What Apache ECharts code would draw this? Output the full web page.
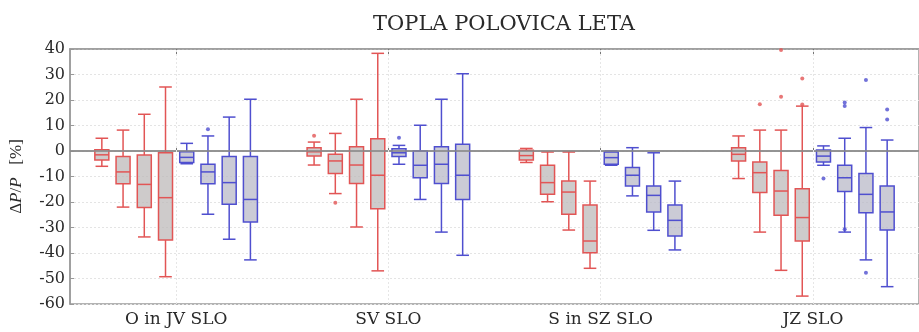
<!DOCTYPE html>
<html>
<head>
<meta charset="utf-8">
<script src="https://cdn.jsdelivr.net/npm/echarts@6/dist/echarts.min.js"></script>
<style>
html,body{margin:0;padding:0;background:#fff;}
#chart{width:919px;height:332px;}
</style>
</head>
<body>
<div id="chart"></div>
<script>
// Category (region) names
const groups = ['O in JV SLO', 'SV SLO', 'S in SZ SLO', 'JZ SLO'];
// Offsets of the four red and four blue boxes inside each region
const redOffsets = [-0.35, -0.25, -0.15, -0.05];
const blueOffsets = [0.05, 0.15, 0.25, 0.35];
// Box statistics [min, q1, median, q3, max] per region, 4 boxes each
const redStats = [
  [[-6, -3.5, -1.5, 0.5, 5], [-22, -12.8, -8.2, -2.2, 8.2], [-33.7, -22.2, -13.1, -1.6, 14.4], [-49.3, -34.9, -18.3, -0.7, 25.1]],
  [[-5.5, -2, -0.3, 1.3, 3.5], [-16.7, -8.8, -3.9, -1.3, 6.9], [-29.8, -12.7, -5.5, 1.7, 20.3], [-47, -22.6, -9.5, 4.8, 38.3]],
  [[-4.5, -3.5, -1.8, 0.3, 1], [-19.9, -17, -12.4, -5.6, -0.4], [-31, -24.8, -16.1, -11.8, -0.4], [-46, -39.9, -35.3, -21.2, -11.8]],
  [[-10.8, -3.9, -1.3, 1.3, 5.9], [-31.8, -16.3, -8.5, -4.3, 8.2], [-46.8, -25.2, -15.7, -7.6, 8.2], [-56.9, -35.3, -26.1, -14.8, 17.6]]
];
const blueStats = [
  [[-5, -4.5, -2.5, -0.3, 3], [-24.8, -12.8, -8.2, -5.2, 5.9], [-34.6, -20.9, -12.4, -2.2, 13.3], [-42.7, -27.8, -19, -2.2, 20.3]],
  [[-5.2, -2.2, -0.7, 0.9, 2.2], [-19, -10.5, -5.6, 0, 10.1], [-31.8, -12.7, -5.2, 1.7, 20.3], [-40.9, -19, -9.5, 2.6, 30.3]],
  [[-5.6, -5.2, -2.6, -0.4, 0], [-17.6, -13.7, -9.5, -6.5, 1.3], [-31.1, -23.9, -17.4, -13.7, -0.7], [-38.8, -33.3, -27.2, -21.2, -11.8]],
  [[-5.6, -4.3, -2, 0.4, 2], [-31.8, -15.9, -10.5, -5.6, 5], [-42.7, -24.2, -17, -8.8, 9.2], [-53.2, -31, -23.9, -13.7, 4.3]]
];
// Outliers: [region index, box index, value]
const redOutliers = [[1, 0, 6], [1, 1, -20.3], [3, 1, 18.3], [3, 2, 39.6], [3, 2, 21.3], [3, 3, 28.4], [3, 3, 18.2]];
const blueOutliers = [[0, 1, 8.5], [1, 0, 5.2], [3, 0, -10.8], [3, 1, 19], [3, 1, 17.6], [3, 1, -30.7], [3, 2, 27.8], [3, 2, -47.7], [3, 3, 16.3], [3, 3, 12.4]];
// Y axis ticks
const yMin = -60, yMax = 40, yStep = 10;

const serif = "'DejaVu Serif', 'Liberation Serif', serif";
const serif2 = "'Liberation Serif', 'DejaVu Serif', serif";
const RED = '#e25555';
const BLUE = '#4f4fcf';
const TXT = '#2a2a2a';

function buildBoxes(stats, offsets) {
  const out = [];
  stats.forEach((g, gi) => g.forEach((s, bi) => out.push([gi + 1 + offsets[bi]].concat(s))));
  return out;
}
function buildOutliers(list, offsets) {
  return list.map(o => [o[0] + 1 + offsets[o[1]], o[2]]);
}

function boxRenderer(color, fill) {
  return function (params, api) {
    const x = api.value(0);
    const pMin = api.coord([x, api.value(1)]);
    const pQ1 = api.coord([x, api.value(2)]);
    const pMed = api.coord([x, api.value(3)]);
    const pQ3 = api.coord([x, api.value(4)]);
    const pMax = api.coord([x, api.value(5)]);
    const w = api.size([0.066, 0])[0];
    const cx = pMin[0];
    const cap = w * 0.9;
    const ls = { stroke: color, lineWidth: 1.5 };
    return {
      type: 'group',
      children: [
        { type: 'line', shape: { x1: cx, y1: pMax[1], x2: cx, y2: pQ3[1] }, style: ls },
        { type: 'line', shape: { x1: cx, y1: pQ1[1], x2: cx, y2: pMin[1] }, style: ls },
        { type: 'line', shape: { x1: cx - cap / 2, y1: pMax[1], x2: cx + cap / 2, y2: pMax[1] }, style: ls },
        { type: 'line', shape: { x1: cx - cap / 2, y1: pMin[1], x2: cx + cap / 2, y2: pMin[1] }, style: ls },
        { type: 'rect', shape: { x: cx - w / 2, y: pQ3[1], width: w, height: pQ1[1] - pQ3[1] }, style: { fill: fill, stroke: color, lineWidth: 1.5 } },
        { type: 'line', shape: { x1: cx - w / 2, y1: pMed[1], x2: cx + w / 2, y2: pMed[1] }, style: ls }
      ]
    };
  };
}

const chart = echarts.init(document.getElementById('chart'), null, { renderer: 'canvas' });
const centers = groups.map((g, i) => i + 1);

chart.setOption({
  animation: false,
  backgroundColor: '#fff',
  title: {
    text: 'TOPLA POLOVICA LETA',
    left: 499, top: 9, textAlign: 'center',
    textStyle: { fontFamily: serif, fontSize: 21, fontWeight: 'normal', color: TXT }
  },
  grid: { left: 68, right: -8, top: 49, bottom: 28, show: true, borderColor: '#9a9a9a', borderWidth: 1.5, backgroundColor: 'transparent' },
  xAxis: [{
    type: 'value', min: 0.5, max: 4.5, position: 'bottom',
    axisLine: { show: true, lineStyle: { color: '#9a9a9a', width: 1.5 } },
    axisTick: { show: true, inside: true, length: 5, customValues: centers, lineStyle: { color: '#777' } },
    axisLabel: { customValues: centers, formatter: v => groups[Math.round(v) - 1] || '', fontFamily: serif, fontSize: 17, color: TXT, margin: 7 },
    splitLine: { show: false }
  }, {
    type: 'value', min: 0.5, max: 4.5, position: 'top',
    axisLine: { show: true, lineStyle: { color: '#9a9a9a', width: 1.5 } },
    axisTick: { show: true, inside: true, length: 5, customValues: centers, lineStyle: { color: '#777' } },
    axisLabel: { show: false },
    splitLine: { show: false }
  }],
  yAxis: {
    type: 'value', min: yMin, max: yMax, interval: yStep,
    name: '{n|Δ}{i|P}{n|/}{i|P}{n|   [%]}',
    nameLocation: 'middle', nameGap: 45, nameRotate: 90,
    nameTextStyle: { rich: { n: { fontFamily: serif2, fontSize: 17, color: TXT }, i: { fontFamily: serif2, fontSize: 17, fontStyle: 'italic', color: TXT } } },
    axisLine: { show: true, lineStyle: { color: '#9a9a9a', width: 1.5 } },
    axisTick: { show: true, inside: true, length: 4, lineStyle: { color: '#999' } },
    axisLabel: { fontFamily: serif, fontSize: 16, color: TXT, margin: 5 },
    splitLine: { show: true, lineStyle: { color: '#e4e4e4', type: [2, 2], width: 1 } }
  },
  series: [
    {
      type: 'custom', name: 'grid', silent: true, data: [],
      markLine: {
        silent: true, symbol: 'none', label: { show: false },
        data: [
          { yAxis: 0, lineStyle: { color: '#8a8a8a', width: 1.5, type: 'solid' } },
          ...centers.map(c => ({ xAxis: c, lineStyle: { color: '#e6e6e6', width: 1, type: [2, 2] } }))
        ]
      }
    },
    {
      type: 'custom', name: 'red', renderItem: boxRenderer(RED, 'rgba(190,185,185,0.75)'),
      data: buildBoxes(redStats, redOffsets), encode: { x: 0, y: [1, 2, 3, 4, 5] }, z: 3
    },
    {
      type: 'custom', name: 'blue', renderItem: boxRenderer(BLUE, 'rgba(185,185,200,0.75)'),
      data: buildBoxes(blueStats, blueOffsets), encode: { x: 0, y: [1, 2, 3, 4, 5] }, z: 3
    },
    {
      type: 'scatter', name: 'redOut', data: buildOutliers(redOutliers, redOffsets),
      symbol: 'circle', symbolSize: 4, itemStyle: { color: RED }, z: 4
    },
    {
      type: 'scatter', name: 'blueOut', data: buildOutliers(blueOutliers, blueOffsets),
      symbol: 'circle', symbolSize: 4, itemStyle: { color: BLUE }, z: 4
    }
  ]
});
</script>
</body>
</html>
